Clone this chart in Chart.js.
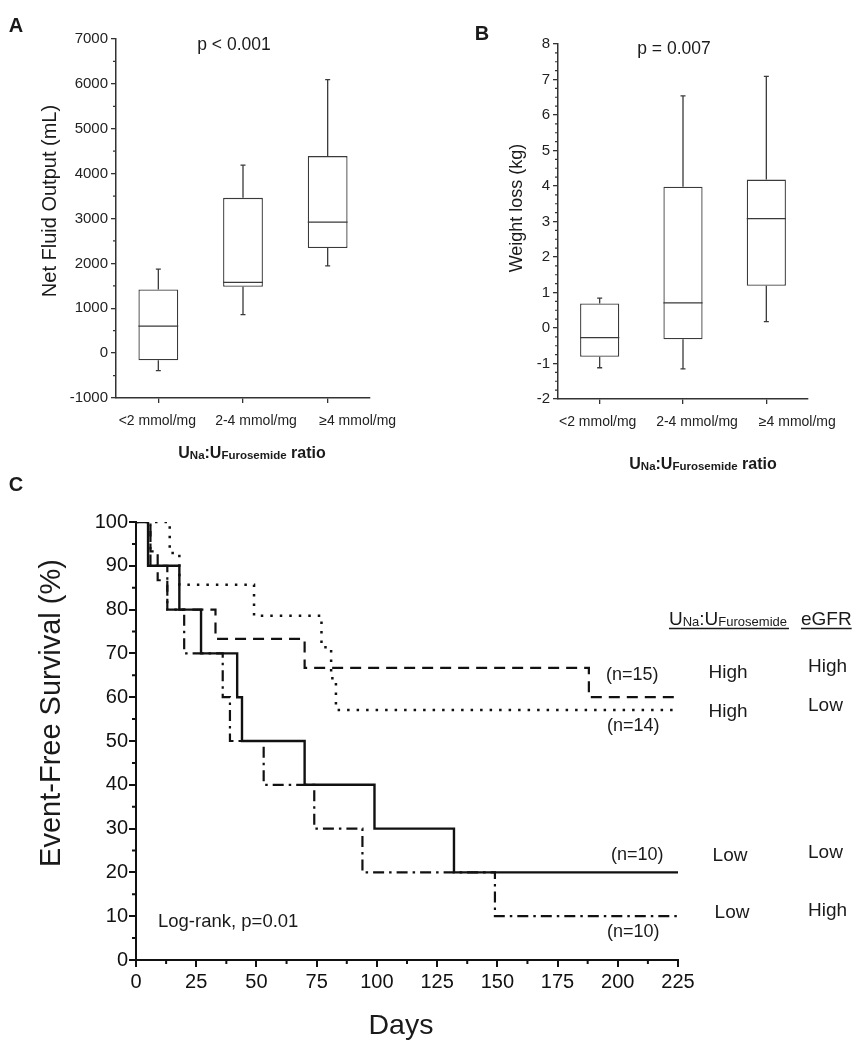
<!DOCTYPE html>
<html>
<head>
<meta charset="utf-8">
<script src="https://cdn.jsdelivr.net/npm/chart.js@4.4.0/dist/chart.umd.min.js"></script>
<style>
  html, body { margin: 0; padding: 0; background: #fff; }
  #wrap { position: relative; width: 858px; height: 1050px; }
  #wrap canvas { position: absolute; left: 0; top: 0; }
</style>
</head>
<body>
<div id="wrap">
  <canvas id="chartA" width="858" height="1050"></canvas>
  <canvas id="chartB" width="858" height="1050"></canvas>
  <canvas id="chartC" width="858" height="1050"></canvas>
</div>
<script>
// Categorías de los paneles A y B
const groupLabels = ['<2 mmol/mg', '2-4 mmol/mg', '≥4 mmol/mg'];

// Panel A - Net Fluid Output (mL)
const fluidMin = [-390, 860, 1945];
const fluidQ1 = [-160, 1480, 2340];
const fluidMedian = [600, 1575, 2920];
const fluidQ3 = [1420, 3460, 4390];
const fluidMax = [1870, 4190, 6095];
const fluidRange = [-1000, 7000];
const fluidStep = 1000;

// Panel B - Weight loss (kg)
const weightMin = [-1.12, -1.15, 0.18];
const weightQ1 = [-0.81, -0.32, 1.19];
const weightMedian = [-0.27, 0.71, 3.08];
const weightQ3 = [0.69, 3.98, 4.18];
const weightMax = [0.84, 6.54, 7.09];
const weightRange = [-2, 8];
const weightStep = 1;

// Panel C - Kaplan-Meier (días del evento, supervivencia tras el evento)
const highHighDays = [0, 6, 9, 13, 33, 70, 188, 225];
const highHighSurvival = [100, 93.3, 86.7, 80, 73.3, 66.7, 60, 60];
const highLowDays = [0, 14, 18, 49, 77, 81, 83, 225];
const highLowSurvival = [100, 92.9, 85.7, 78.6, 71.4, 64.3, 57.1, 57.1];
const lowLowDays = [0, 5, 18, 27, 42, 44, 70, 99, 132, 225];
const lowLowSurvival = [100, 90, 80, 70, 60, 50, 40, 30, 20, 20];
const lowHighDays = [0, 6, 13, 20, 36, 39, 53, 74, 94, 149, 225];
const lowHighSurvival = [100, 90, 80, 70, 60, 50, 40, 30, 20, 10, 10];
const daysRange = [0, 225];
const daysStep = 25;
const survivalRange = [0, 100];
const survivalStep = 10;

const FONT = '"Liberation Sans", Arial, Helvetica, sans-serif';
const AXIS = '#333';
const BOX_LINE = '#3a3a3a';
const INK = '#1a1a1a';

// Texto simple
function text(ctx, str, x, y, size, opts = {}) {
    ctx.save();
    ctx.font = (opts.bold ? 'bold ' : '') + size + 'px ' + FONT;
    ctx.fillStyle = opts.color || INK;
    ctx.textAlign = opts.align || 'left';
    ctx.textBaseline = 'middle';
    ctx.translate(x, y);
    if (opts.rotate) ctx.rotate(opts.rotate);
    ctx.fillText(str, 0, 0);
    ctx.restore();
}

// Texto con subíndices: parts = [[texto, tamaño], ...] sobre una misma línea base
function richText(ctx, parts, x, baseline, bold, align) {
    ctx.save();
    ctx.fillStyle = INK;
    ctx.textBaseline = 'alphabetic';
    ctx.textAlign = 'left';
    let total = 0;
    const widths = parts.map(([t, size]) => {
        ctx.font = (bold ? 'bold ' : '') + size + 'px ' + FONT;
        const w = ctx.measureText(t).width;
        total += w;
        return w;
    });
    let cx = align === 'center' ? x - total / 2 : x;
    parts.forEach(([t, size], i) => {
        ctx.font = (bold ? 'bold ' : '') + size + 'px ' + FONT;
        ctx.fillText(t, cx, baseline + (size < 15 ? 1 : 0));
        cx += widths[i];
    });
    ctx.restore();
    return total;
}

function underline(ctx, x1, x2, y) {
    ctx.save();
    ctx.strokeStyle = INK;
    ctx.lineWidth = 1.3;
    ctx.beginPath();
    ctx.moveTo(x1, y);
    ctx.lineTo(x2, y);
    ctx.stroke();
    ctx.restore();
}

// Marcas menores de los ejes
function minorTicks(list) {
    return {
        id: 'minorTicks',
        afterDraw(chart) {
            const ctx = chart.ctx;
            list.forEach(m => {
                const s = chart.scales[m.axis];
                ctx.save();
                ctx.strokeStyle = m.color;
                ctx.lineWidth = m.width;
                ctx.beginPath();
                for (let v = s.min; v <= s.max + 1e-9; v += m.step) {
                    const r = v / m.major;
                    if (Math.abs(r - Math.round(r)) < 1e-6) continue;
                    const p = s.getPixelForValue(v);
                    if (m.axis === 'y') {
                        ctx.moveTo(s.right, p);
                        ctx.lineTo(s.right - m.len, p);
                    } else {
                        ctx.moveTo(p, s.top);
                        ctx.lineTo(p, s.top + m.len);
                    }
                }
                ctx.stroke();
                ctx.restore();
            });
        }
    };
}

// Bigotes y mediana sobre las cajas (barras flotantes Q1-Q3)
function boxWhiskers(mins, medians, maxs) {
    return {
        id: 'boxWhiskers',
        afterDatasetsDraw(chart) {
            const { ctx, scales: { y } } = chart;
            const bars = chart.getDatasetMeta(0).data;
            ctx.save();
            ctx.strokeStyle = BOX_LINE;
            ctx.lineWidth = 1.3;
            bars.forEach((bar, i) => {
                const half = bar.width / 2;
                const top = Math.min(bar.y, bar.base);
                const bottom = Math.max(bar.y, bar.base);
                const yHi = y.getPixelForValue(maxs[i]);
                const yLo = y.getPixelForValue(mins[i]);
                const yMed = y.getPixelForValue(medians[i]);
                ctx.beginPath();
                ctx.moveTo(bar.x, top); ctx.lineTo(bar.x, yHi);
                ctx.moveTo(bar.x - 2.5, yHi); ctx.lineTo(bar.x + 2.5, yHi);
                ctx.moveTo(bar.x, bottom); ctx.lineTo(bar.x, yLo);
                ctx.moveTo(bar.x - 2.5, yLo); ctx.lineTo(bar.x + 2.5, yLo);
                ctx.moveTo(bar.x - half, yMed); ctx.lineTo(bar.x + half, yMed);
                ctx.stroke();
            });
            ctx.restore();
        }
    };
}

// Etiquetas de categoría: en el original van algo desplazadas a la derecha de su marca
function categoryLabels(shifts, yCenter) {
    return {
        id: 'categoryLabels',
        afterDraw(chart) {
            const x = chart.scales.x;
            groupLabels.forEach((lab, i) => {
                text(chart.ctx, lab, x.getPixelForValue(i) + shifts[i], yCenter, 14, { align: 'center', color: '#222' });
            });
        }
    };
}

function labels(draw) {
    return { id: 'labels', afterDraw(chart) { draw(chart.ctx); } };
}

// Configuración común de un panel de cajas
function boxChart(q1, q3, range, step, area) {
    return {
        type: 'bar',
        data: {
            labels: groupLabels,
            datasets: [{
                data: q1.map((q, i) => [q, q3[i]]),
                backgroundColor: '#fff',
                borderColor: BOX_LINE,
                borderWidth: 1.3,
                borderSkipped: false,
                barPercentage: 0.47,
                categoryPercentage: 1
            }]
        },
        options: {
            responsive: false,
            animation: false,
            events: [],
            layout: { padding: area.padding },
            plugins: { legend: { display: false }, tooltip: { enabled: false } },
            scales: {
                x: {
                    offset: true,
                    grid: { offset: false, drawOnChartArea: false, tickLength: 5, color: AXIS, lineWidth: 1.3 },
                    border: { color: AXIS, width: 1.5 },
                    ticks: { display: false },
                    afterFit: s => { s.height = area.xHeight; }
                },
                y: {
                    min: range[0],
                    max: range[1],
                    grid: { drawOnChartArea: false, tickLength: 5, color: AXIS, lineWidth: 1.3 },
                    border: { color: AXIS, width: 1.5 },
                    ticks: {
                        stepSize: step,
                        font: { family: FONT, size: 15 },
                        color: '#222',
                        padding: 3,
                        callback: v => String(v)
                    },
                    afterFit: s => { s.width = area.yWidth; }
                }
            }
        }
    };
}

// Panel A
const cfgA = boxChart(fluidQ1, fluidQ3, fluidRange, fluidStep,
    { padding: { left: 0, top: 39, right: 488, bottom: 580 }, xHeight: 72, yWidth: 116 });
cfgA.plugins = [
    boxWhiskers(fluidMin, fluidMedian, fluidMax),
    minorTicks([{ axis: 'y', step: 500, major: 1000, len: 3, color: AXIS, width: 1.2 }]),
    categoryLabels([-1, 13, 30], 421.5),
    labels(ctx => {
        text(ctx, 'A', 16, 26, 20, { bold: true, align: 'center' });
        text(ctx, 'p < 0.001', 234, 45, 17.5, { align: 'center' });
        text(ctx, 'Net Fluid Output (mL)', 50, 201, 20, { align: 'center', rotate: -Math.PI / 2 });
        richText(ctx, [['U', 16], ['Na', 11.5], [':U', 16], ['Furosemide', 11.5], [' ratio', 16]], 252, 458, true, 'center');
    })
];
new Chart(document.getElementById('chartA'), cfgA);

// Panel B
const cfgB = boxChart(weightQ1, weightQ3, weightRange, weightStep,
    { padding: { left: 430, top: 44, right: 50, bottom: 580 }, xHeight: 71, yWidth: 128 });
cfgB.plugins = [
    boxWhiskers(weightMin, weightMedian, weightMax),
    minorTicks([{ axis: 'y', step: 0.25, major: 1, len: 3, color: AXIS, width: 1.2 }]),
    categoryLabels([-2, 14, 31], 421.7),
    labels(ctx => {
        text(ctx, 'B', 482, 34, 20, { bold: true, align: 'center' });
        text(ctx, 'p = 0.007', 674, 49, 17.5, { align: 'center' });
        text(ctx, 'Weight loss (kg)', 517, 208, 18, { align: 'center', rotate: -Math.PI / 2 });
        richText(ctx, [['U', 16], ['Na', 11.5], [':U', 16], ['Furosemide', 11.5], [' ratio', 16]], 703, 469, true, 'center');
    })
];
new Chart(document.getElementById('chartB'), cfgB);

// Panel C - curvas de supervivencia escalonadas
function steps(days, surv) {
    return days.map((d, i) => ({ x: d, y: surv[i] }));
}

new Chart(document.getElementById('chartC'), {
    type: 'line',
    data: {
        datasets: [
            { label: 'High / Low', data: steps(highLowDays, highLowSurvival), borderDash: [2.5, 7], borderWidth: 2.5 },
            { label: 'High / High', data: steps(highHighDays, highHighSurvival), borderDash: [11, 7], borderWidth: 2.2 },
            { label: 'Low / High', data: steps(lowHighDays, lowHighSurvival), borderDash: [11, 5, 2.5, 5], borderWidth: 2.2 },
            { label: 'Low / Low', data: steps(lowLowDays, lowLowSurvival), borderWidth: 2.4 }
        ].map(ds => Object.assign({ stepped: true, borderColor: '#111', pointRadius: 0, fill: false }, ds))
    },
    options: {
        responsive: false,
        animation: false,
        events: [],
        layout: { padding: { left: 0, top: 522, right: 180, bottom: 0 } },
        plugins: { legend: { display: false }, tooltip: { enabled: false } },
        scales: {
            x: {
                type: 'linear',
                min: daysRange[0],
                max: daysRange[1],
                grid: { drawOnChartArea: false, tickLength: 7, color: '#111', lineWidth: 2 },
                border: { color: '#111', width: 2 },
                ticks: { stepSize: daysStep, font: { family: FONT, size: 20 }, color: '#111', padding: 3, maxRotation: 0 },
                afterFit: s => { s.height = 90; }
            },
            y: {
                min: survivalRange[0],
                max: survivalRange[1],
                grid: { drawOnChartArea: false, tickLength: 7, color: '#111', lineWidth: 2 },
                border: { color: '#111', width: 2 },
                ticks: { stepSize: survivalStep, font: { family: FONT, size: 20 }, color: '#111', padding: 1 },
                afterFit: s => { s.width = 136; }
            }
        }
    },
    plugins: [
        minorTicks([
            { axis: 'x', step: 12.5, major: 25, len: 4, color: '#111', width: 2 },
            { axis: 'y', step: 5, major: 10, len: 4, color: '#111', width: 2 }
        ]),
        labels(ctx => {
            text(ctx, 'C', 16, 485, 20, { bold: true, align: 'center' });
            text(ctx, 'Event-Free Survival (%)', 52, 713, 29, { align: 'center', rotate: -Math.PI / 2 });
            text(ctx, 'Days', 401, 1026, 28.5, { align: 'center' });
            text(ctx, 'Log-rank, p=0.01', 158, 922, 18.5);

            const w = richText(ctx, [['U', 19], ['Na', 13], [':U', 19], ['Furosemide', 13]], 669, 625, false, 'left');
            underline(ctx, 669, 669 + w + 2, 628.5);
            const w2 = richText(ctx, [['eGFR', 19]], 801, 625, false, 'left');
            underline(ctx, 801, 801 + w2, 628.5);

            text(ctx, '(n=15)', 606, 675, 18);
            text(ctx, '(n=14)', 607, 726, 18);
            text(ctx, '(n=10)', 611, 855, 18);
            text(ctx, '(n=10)', 607, 932, 18);

            text(ctx, 'High', 728, 673, 19, { align: 'center' });
            text(ctx, 'High', 728, 712, 19, { align: 'center' });
            text(ctx, 'Low', 730, 856, 19, { align: 'center' });
            text(ctx, 'Low', 732, 913, 19, { align: 'center' });

            text(ctx, 'High', 808, 667, 19);
            text(ctx, 'Low', 808, 706, 19);
            text(ctx, 'Low', 808, 853, 19);
            text(ctx, 'High', 808, 911, 19);
        })
    ]
});
</script>
</body>
</html>
